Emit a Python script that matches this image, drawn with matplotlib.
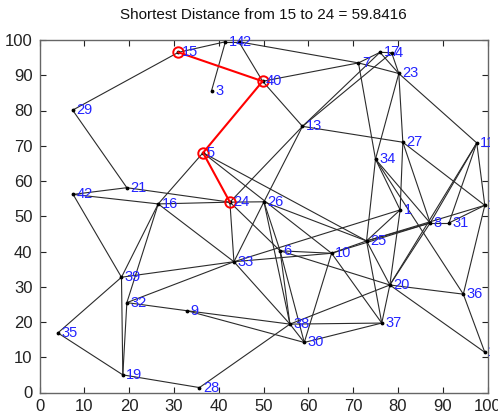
import matplotlib
matplotlib.use("Agg")
import matplotlib.pyplot as plt
from matplotlib.patches import Rectangle

# ---- data ----
node_ids = [1, 2, 3, 4, 5, 6, 7, 8, 9, 10, 11, 12, 13, 14, 15, 16, 17, 18, 19, 20,
            21, 23, 24, 25, 26, 27, 28, 29, 30, 31, 32, 33, 34, 35, 36, 37, 38, 39, 40, 42]
node_x = [80.5, 44.5, 38.4, 78.6, 36.5, 53.7, 71.2, 87.2, 32.9, 65.2, 97.6, 99.4, 58.7, 41.5, 31.0, 26.5, 76.0, 99.4, 18.6, 78.2,
          19.5, 80.2, 42.5, 73.0, 50.1, 81.1, 35.7, 7.4, 59.1, 91.4, 19.5, 43.4, 75.0, 4.1, 94.6, 76.4, 55.9, 18.3, 49.8, 7.5]
node_y = [51.8, 99.5, 85.6, 96.4, 68.0, 40.2, 93.5, 48.1, 23.2, 39.5, 70.8, 53.1, 75.5, 99.5, 96.5, 53.5, 96.5, 11.4, 5.0, 30.5,
          58.1, 90.5, 54.0, 43.0, 54.1, 71.0, 1.4, 80.1, 14.2, 48.1, 25.5, 37.1, 66.2, 16.9, 27.9, 19.7, 19.4, 32.7, 88.3, 56.2]

edges = [(15, 29), (29, 21), (15, 14), (14, 2), (14, 3), (2, 7), (2, 40), (40, 7), (7, 23), (7, 34),
         (7, 17), (17, 4), (17, 23), (4, 23), (17, 13), (4, 13), (40, 13), (13, 27), (13, 26), (13, 24),
         (23, 27), (23, 34), (23, 11), (27, 1), (27, 8), (27, 12), (34, 1), (34, 8), (34, 36), (34, 25),
         (42, 21), (42, 16), (21, 24), (16, 24), (42, 39), (16, 39), (16, 32), (16, 33), (16, 5), (5, 10),
         (5, 25), (24, 26), (24, 33), (24, 6), (26, 33), (26, 6), (26, 25), (26, 38),
         (39, 33), (39, 35), (39, 19), (32, 19), (32, 33), (32, 9), (35, 19), (19, 28), (28, 38), (9, 38),
         (9, 30), (33, 10), (33, 1), (33, 38), (6, 10), (6, 38), (6, 30), (6, 20),
         (10, 25), (10, 30), (10, 37), (10, 8), (25, 8), (8, 31), (31, 12), (25, 12),
         (25, 20), (25, 37), (25, 1), (1, 20), (20, 36), (20, 18), (20, 38), (20, 37), (20, 8),
         (20, 11), (11, 8), (11, 31), (11, 12), (36, 18), (12, 36), (30, 37), (38, 37), (38, 30)]

path = [15, 40, 5, 24]
source, target, distance = 15, 24, 59.8416

x_ticks = list(range(0, 101, 10))
y_ticks = list(range(0, 101, 10))

# ---- plot ----
pos = {n: (x, y) for n, x, y in zip(node_ids, node_x, node_y)}

fig = plt.figure(figsize=(4.98, 4.20), dpi=100)
ax = fig.add_axes([39.5 / 498, 27.5 / 420, 448 / 498, 352.5 / 420])

for a, b in edges:
    ax.plot([pos[a][0], pos[b][0]], [pos[a][1], pos[b][1]], color='#2b2b2b', lw=0.8, zorder=1)

ax.plot(node_x, node_y, 'k.', ms=3.5, zorder=3)

px = [pos[n][0] for n in path]
py = [pos[n][1] for n in path]
ax.plot(px, py, color='red', lw=1.5, zorder=4)
ax.plot(px, py, 'o', mfc='none', mec='red', ms=7.5, mew=1.4, zorder=5)

# labels are cut at the right border only
clip_rect = Rectangle((-0.2, -0.2), 1.2 + 0.006, 1.4, transform=ax.transAxes,
                      fill=False, visible=False)
for n in node_ids:
    t = ax.annotate(str(n), pos[n], xytext=(2.5, 0), textcoords='offset points',
                    va='center', ha='left', color='#2424ff', fontsize=10.5,
                    family='Liberation Sans', annotation_clip=False, zorder=6)
    t.set_clip_path(clip_rect)
    t.set_clip_on(True)

ax.set_xlim(0, 100)
ax.set_ylim(0, 100)
ax.set_xticks(x_ticks)
ax.set_yticks(y_ticks)
ax.tick_params(direction='in', top=True, right=True, length=4, width=0.8,
               labelsize=12, colors='#222222', pad=5)
for lab in ax.get_xticklabels() + ax.get_yticklabels():
    lab.set_family('Liberation Sans')
for s in ax.spines.values():
    s.set_color('#666666')
    s.set_linewidth(1.0)

ax.set_title(f'Shortest Distance from {source} to {target} = {distance:.4f}',
             fontsize=11, family='Liberation Sans', pad=15, color='#111111')

fig.savefig('out.png', dpi=100)
